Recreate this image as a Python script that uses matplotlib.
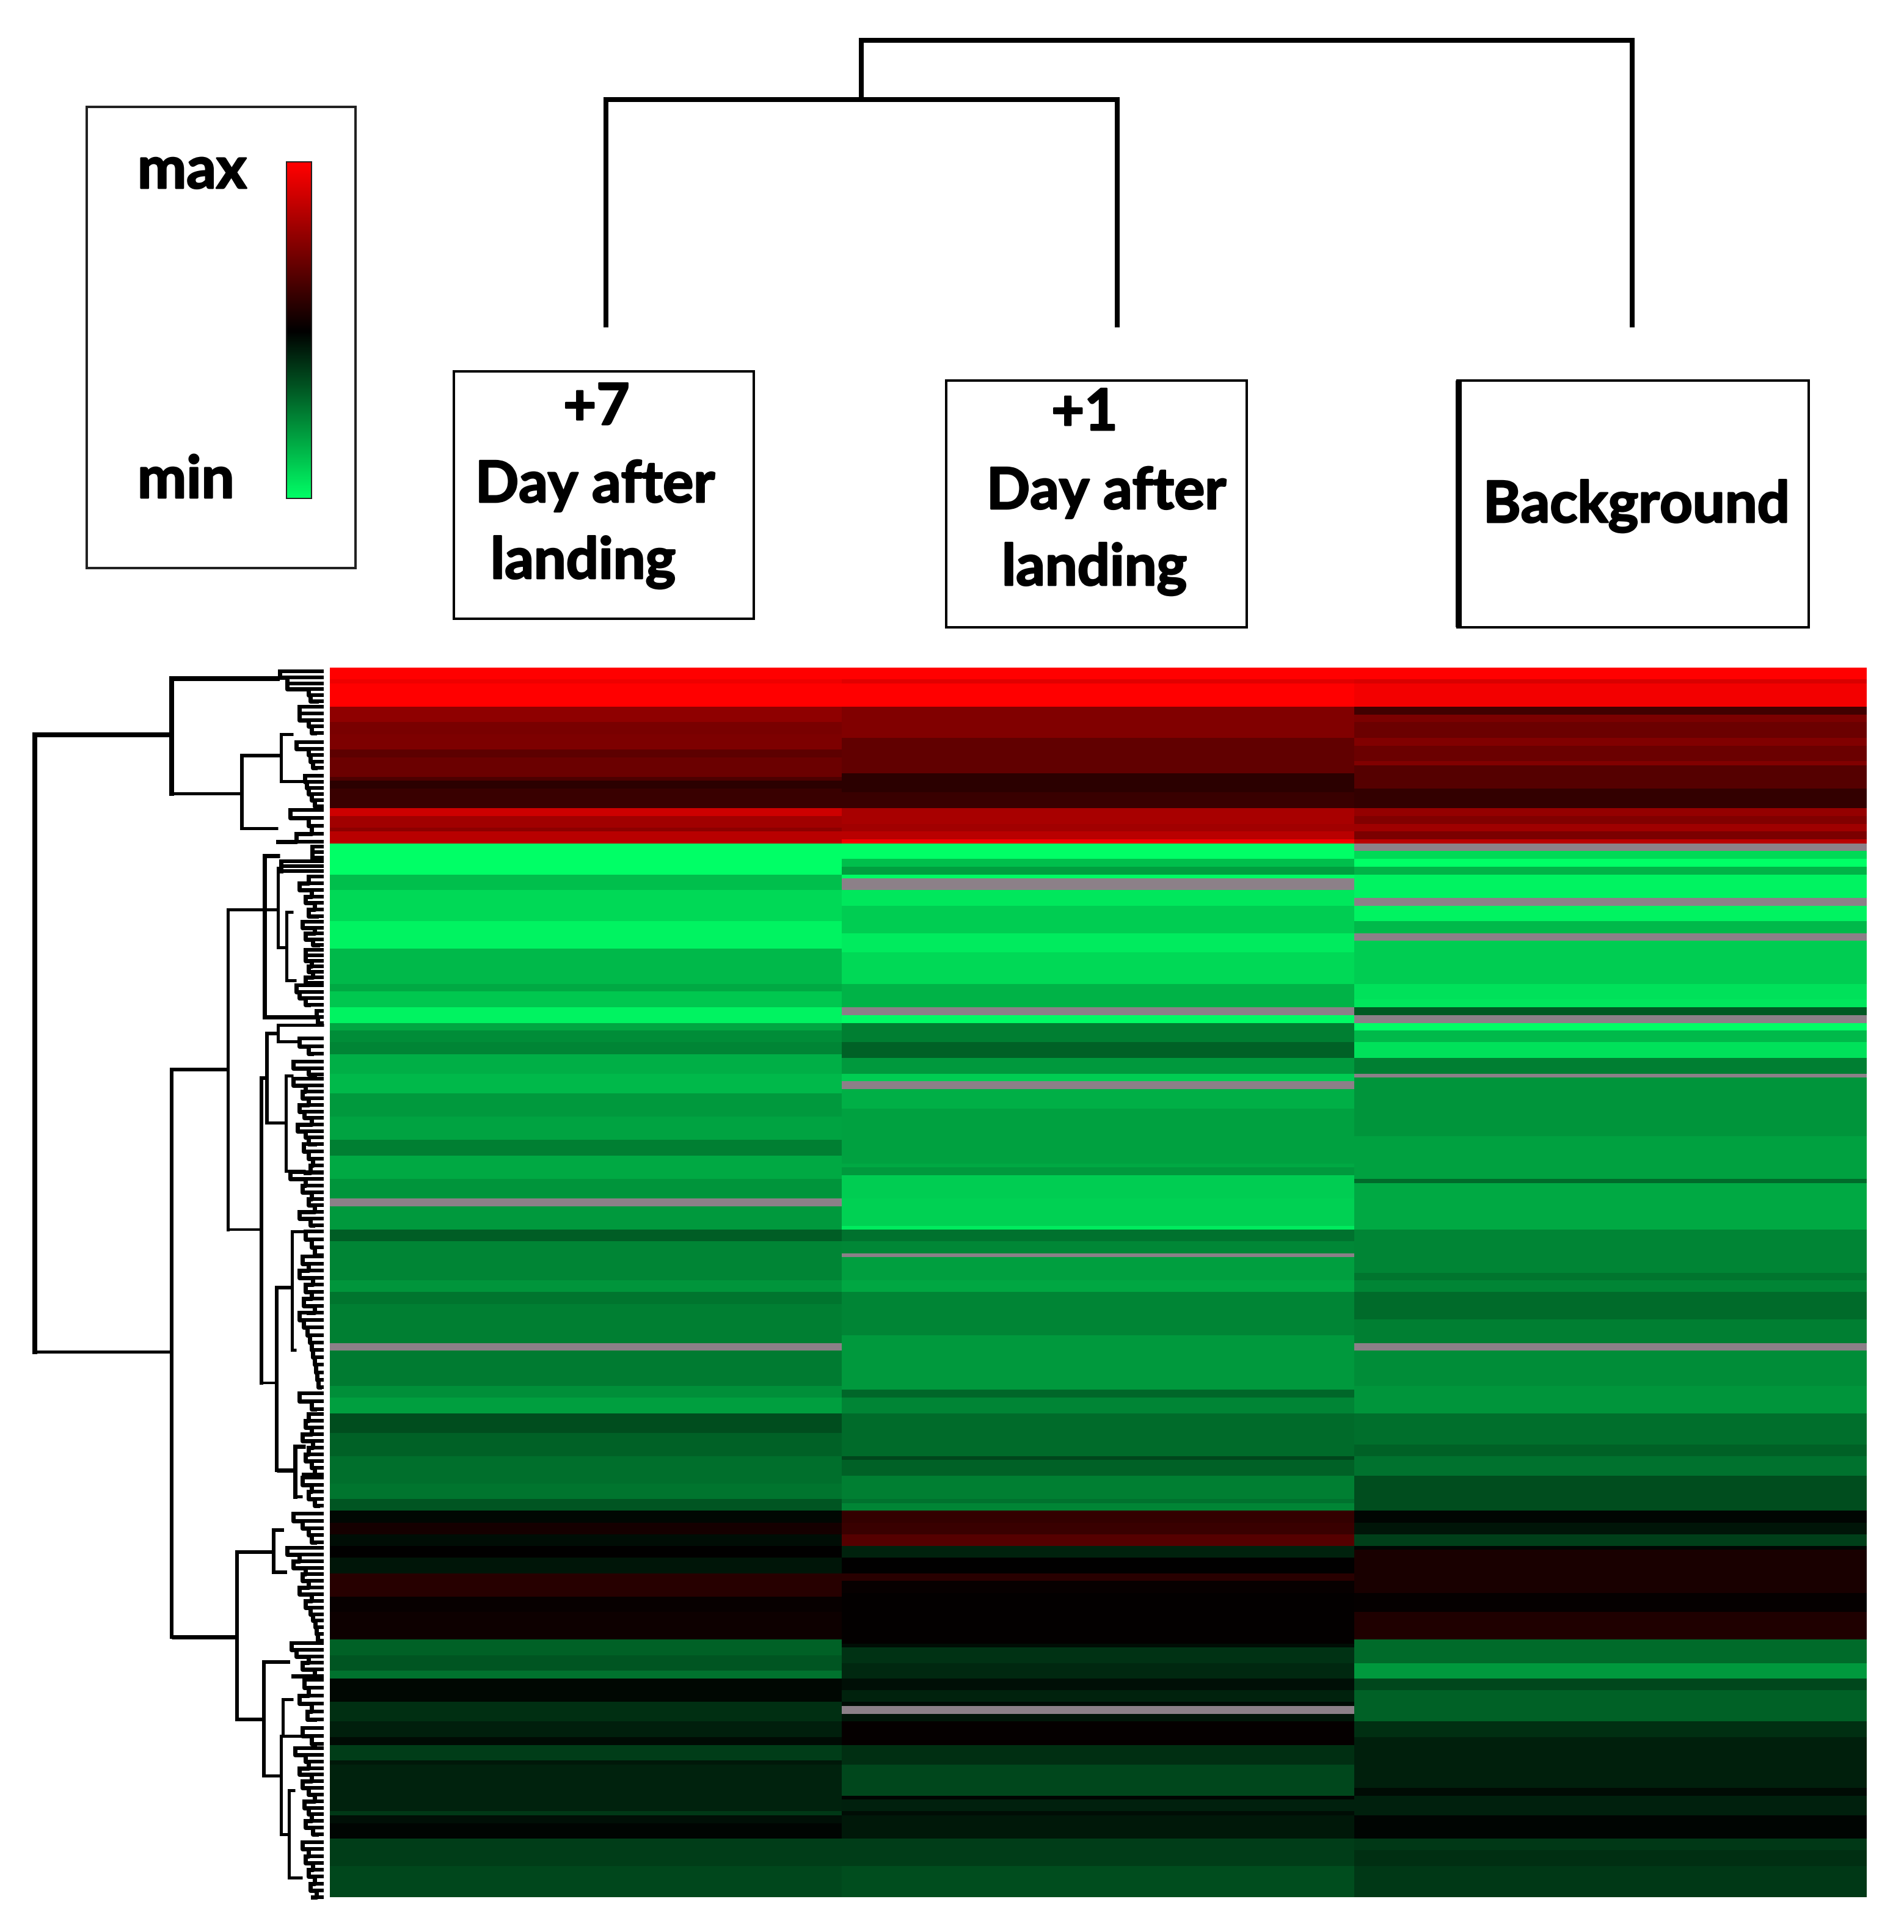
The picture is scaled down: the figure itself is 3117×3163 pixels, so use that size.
import numpy as np
import matplotlib
matplotlib.use('Agg')
import matplotlib.pyplot as plt
import matplotlib.patheffects as pe
from matplotlib.colors import LinearSegmentedColormap

W, H = 3117, 3163
px = 0.72  # one image pixel in points at dpi 100

# heatmap bands: last row of each band and its value, 315 rows from top to bottom
nan = np.nan
plus7_ends = [3,4,10,14,17,21,23,28,29,31,36,38,41,42,45,53,57,65,72,81,83,87,91,93,96,99,104,109,115,121,125,131,136,138,144,147,157,160,163,173,175,184,187,191,196,202,209,213,216,219,222,225,228,232,238,242,249,253,257,259,265,270,274,276,280,281,293,294,296,300,307,315]
plus7_vals = [1,.93,1,.56,.47,.49,.36,.42,.3,.17,.22,.8,.63,.55,.72,-1,-.75,-.85,-.95,-.72,-.66,-.78,-.95,-.65,-.55,-.52,-.68,-.72,-.6,-.64,-.5,-.66,-.58,nan,-.6,-.36,-.52,-.58,-.46,-.5,nan,-.48,-.56,-.62,-.3,-.38,-.43,-.46,-.33,-.03,.08,-.05,0,-.08,.15,.03,.05,-.38,-.33,-.45,-.03,-.18,-.12,-.04,-.24,-.1,-.14,-.22,-.06,-.02,-.24,-.28]

plus1_ends = [3,4,10,18,27,32,36,40,42,44,45,49,51,53,54,57,61,68,73,81,87,89,91,96,100,104,106,108,113,127,128,130,136,143,144,147,150,151,157,160,171,185,187,191,202,203,207,213,214,216,219,222,225,228,232,234,237,250,251,255,259,262,265,266,268,270,276,281,289,290,293,294,300,307,315]
plus1_vals = [1,.88,1,.5,.38,.17,.22,.66,.63,.72,.95,-1,-.75,-.62,-.98,nan,-.9,-.8,-.92,-.85,-.7,nan,-.98,-.5,-.38,-.6,-.8,nan,-.68,-.63,-.66,-.6,-.8,-.82,-.92,-.45,-.53,nan,-.62,-.65,-.52,-.6,-.4,-.52,-.42,-.28,-.38,-.5,-.45,-.52,.2,.22,.33,-.14,0,.16,.03,.01,-.05,-.2,-.16,-.06,-.14,-.04,nan,-.08,.02,-.18,-.28,-.02,-.13,-.05,-.1,-.24,-.3]

background_ends = [3,4,10,12,14,18,20,24,25,31,32,36,38,40,42,44,45,47,49,51,53,59,61,65,68,70,81,85,87,89,91,93,96,100,104,105,120,131,132,144,155,157,160,167,173,175,184,191,199,202,207,216,219,222,225,226,237,242,249,255,259,262,270,274,287,289,294,300,303,307,315]
background_vals = [1,.85,.95,.25,.48,.42,.5,.42,.5,.33,.2,.2,.58,.5,.62,.48,.72,nan,-.85,-1,-.7,-.95,nan,-.95,-.72,nan,-.8,-.88,-.9,-.35,nan,-1,-.72,-.88,-.5,nan,-.58,-.63,-.42,-.66,-.52,-.46,-.52,-.42,-.5,nan,-.55,-.58,-.43,-.38,-.45,-.3,-.02,-.08,-.25,-.02,.1,.02,.12,-.42,-.6,-.28,-.38,-.18,-.12,-.04,-.13,-.02,-.22,-.18,-.22]

# left dendrogram, in image pixels: joint x, top y, bottom y, end of top arm, end of bottom arm
br_x   = [57,281,396,460,281,373,433,433,455,469,428,437,455,468,453,478,483,388,448,432,460,463,473]
br_top = [1203,1111,1237,1202,1751,1489,1401,1489,1421,1493,1765,1692,1678,1761,2108,2016,2368,2541,2505,2721,2842,2782,2931]
br_bot = [2213,1299,1356,1279,2680,2013,1665,1489,1551,1605,2264,1838,1705,1917,2407,2210,2450,2815,2574,2907,3003,2842,3074]
br_ta  = [281,458,460,480,373,433,458,455,460,480,437,455,530,480,478,500,500,448,465,475,463,480,483]
br_ba  = [281,396,455,499,388,425,518,455,469,485,453,468,490,500,483,485,495,432,470,460,473,495,495]
br_lw  = [8,8,6,5,6,5,7,5,5,5,6,6,5,5,6,5,7,6,6,6,5,5,5]
br_lwb = [5,5,5,5,7,4,7,5,5,5,4,5,5,5,7,5,5,6,6,5,5,5,5]

# the dense twigs next to the heatmap: y span and where each leaf joins
twig_y0 = [1099,1157,1215,1270,1326,1386,1410,1435,1509,1555,1613,1655,1700,1738,1766,1873,1919,2016,2057,2149,2281,2315,2419,2478,2534,2690,2750,2829,2862,3016]
twig_y1 = [1148,1200,1257,1320,1378,1404,1426,1500,1547,1609,1645,1675,1725,1759,1873,1920,2006,2055,2149,2271,2307,2414,2465,2525,2686,2744,2815,2855,3003,3106]
twig_join = [
    [458,470,470,505,508,518],
    [490,490,505,510,515],
    [485,505,508,512,516],
    [499,502,505,510,515,520],
    [475,505,510,485,455],
    [511,511,511],
    [460,460,460],
    [505,490,510,500,515,505,518],
    [495,515,500,512,520],
    [500,500,510,505,512,500,520],
    [485,490,500,505],
    [518,520,522],
    [490,505,510],
    [480,505,515],
    [480,500,495,505,490,498,510,487,500,505,515],
    [497,505,512,508,500],
    [475,500,495,510,505,515,490,508,512],
    [500,510,515,520],
    [495,505,490,512,500,510,497,515,505],
    [490,497,503,507,510,512,515,517,519,521,523],
    [490,510,515],
    [505,500,510,495,512,505,500,510,515,497],
    [495,510,505,515,520],
    [480,495,505,510,515],
    [470,490,480,500,495,505,490,510,500,508,512,516,518,520,523],
    [477,485,505,495,515,480],
    [498,505,490,510,503,515],
    [495,510,515],
    [483,500,505,490,510,495,505,515,498,505,510,500,512,518],
    [495,505,500,512,505,515,508,518,512],
]
twig_end = 530

# top dendrogram
top_x = [[1410,1410,2672,2672],[992,992,1829,1829]]
top_y = [[163,66,66,536],[536,163,163,536]]

group_labels = [
    [('+7',922,695),('Day after',778,822),('landing',803,947)],
    [('+1',1721,704),('Day after',1615,833),('landing',1640,958)],
    [('Background',2428,855)],
]
box_x0 = [743,1549,2386]
box_x1 = [1234,2041,2961]
box_y0 = [608,623,623]
box_y1 = [1013,1027,1027]

plt.rcParams['font.family'] = ['Lato', 'DejaVu Sans']
cmap = LinearSegmentedColormap.from_list('gbr', [(0,1,.4),(0,0,0),(1,0,0)], N=256)
cmap.set_bad('#8c8088')

data = np.column_stack([
    np.repeat(plus7_vals, np.diff([0]+plus7_ends)),
    np.repeat(plus1_vals, np.diff([0]+plus1_ends)),
    np.repeat(background_vals, np.diff([0]+background_ends)),
])

fig = plt.figure(figsize=(W/100, H/100), dpi=100, facecolor='white')

def rect(x0, y0, x1, y1):
    return [x0/W, 1-y1/H, (x1-x0)/W, (y1-y0)/H]

ax = fig.add_axes(rect(540, 1093, 3056, 3106))
im = ax.imshow(data, aspect='auto', cmap=cmap, vmin=-1, vmax=1, interpolation='nearest')
ax.axis('off')

# overlay for everything drawn in image pixels
ov = fig.add_axes([0, 0, 1, 1])
ov.set_xlim(0, W)
ov.set_ylim(H, 0)
ov.axis('off')
ov.patch.set_alpha(0)

for i in range(len(br_x)):
    ov.plot([br_x[i], br_x[i]], [br_top[i], br_bot[i]], color='k', lw=br_lw[i]*px, solid_capstyle='projecting')
    ov.plot([br_x[i], br_ta[i]], [br_top[i], br_top[i]], color='k', lw=br_lw[i]*px, solid_capstyle='butt')
    ov.plot([br_x[i], br_ba[i]], [br_bot[i], br_bot[i]], color='k', lw=br_lwb[i]*px, solid_capstyle='butt')

for y0, y1, join in zip(twig_y0, twig_y1, twig_join):
    ys = np.linspace(y0, y1, len(join))
    for k, (y, x) in enumerate(zip(ys, join)):
        ov.plot([x, twig_end], [y, y], color='k', lw=6*px, solid_capstyle='butt')
        if k + 1 < len(join):
            ov.plot([x, x, join[k+1]], [y, ys[k+1], ys[k+1]], color='k', lw=7*px)

for xs, ys in zip(top_x, top_y):
    ov.plot(xs, ys, color='k', lw=8*px, solid_joinstyle='miter', solid_capstyle='butt')
ov.plot([1410, 1410], [163, 66], color='k', lw=8*px)

# group boxes
for x0, x1, y0, y1 in zip(box_x0, box_x1, box_y0, box_y1):
    ov.plot([x0, x1, x1, x0, x0], [y0, y0, y1, y1, y0], color='k', lw=4*px, solid_joinstyle='miter')
ov.plot([2388, 2388], [623, 1027], color='k', lw=10*px, solid_capstyle='butt')
stroke = [pe.withStroke(linewidth=2, foreground='k')]
for labels in group_labels:
    for s, x, y in labels:
        ov.text(x, y, s, fontsize=67.5, fontweight='bold', va='baseline', ha='left', color='k', path_effects=stroke)

# legend box and colour bar
ov.plot([142, 582, 582, 142, 142], [175, 175, 930, 930, 175], color='#222222', lw=4*px, solid_joinstyle='miter')
ov.text(225, 308, 'max', fontsize=69, fontweight='bold', va='baseline', ha='left', path_effects=stroke)
ov.text(225, 815, 'min', fontsize=69, fontweight='bold', va='baseline', ha='left', path_effects=stroke)
cax = fig.add_axes(rect(469, 265, 510, 816))
cb = fig.colorbar(im, cax=cax)
cb.set_ticks([])
cb.solids.set_edgecolor('face')
cb.outline.set_linewidth(2*px)
cb.outline.set_edgecolor('#222222')

fig.savefig('out.png', dpi=100)
